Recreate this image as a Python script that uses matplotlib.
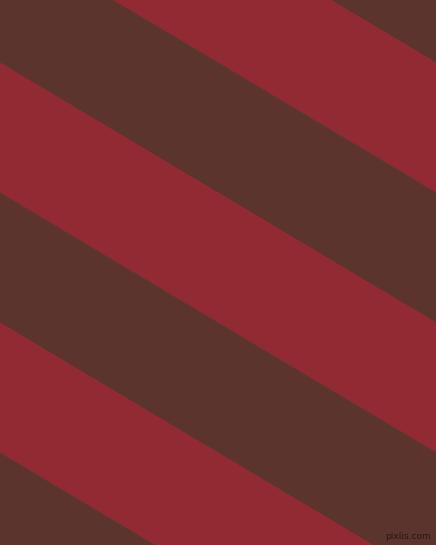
import numpy as np
import matplotlib
matplotlib.use("Agg")
import matplotlib.pyplot as plt

# Stripe boundaries: y where each boundary line meets the left edge (px)
offsets = [-327, -197, -67, 63, 193, 323, 453, 583]
slope = 0.596
stripe_colors = ["#5a342d", "#912a32"]

W, H = 436, 545

fig = plt.figure(figsize=(W / 100, H / 100), dpi=100)
ax = fig.add_axes([0, 0, 1, 1])
ax.set_xlim(0, W)
ax.set_ylim(H, 0)
ax.axis("off")

x = np.array([0, W])
for i in range(len(offsets) - 1):
    top = offsets[i] + slope * x
    bottom = offsets[i + 1] + slope * x
    ax.fill_between(x, top, bottom, color=stripe_colors[i % 2], linewidth=0.6,
                    edgecolor=stripe_colors[i % 2])

# watermark
ax.text(W - 5, H - 4, "pixlis.com", color="#2b1614", fontsize=6.5,
        ha="right", va="bottom")

fig.savefig("out.png", dpi=100)
